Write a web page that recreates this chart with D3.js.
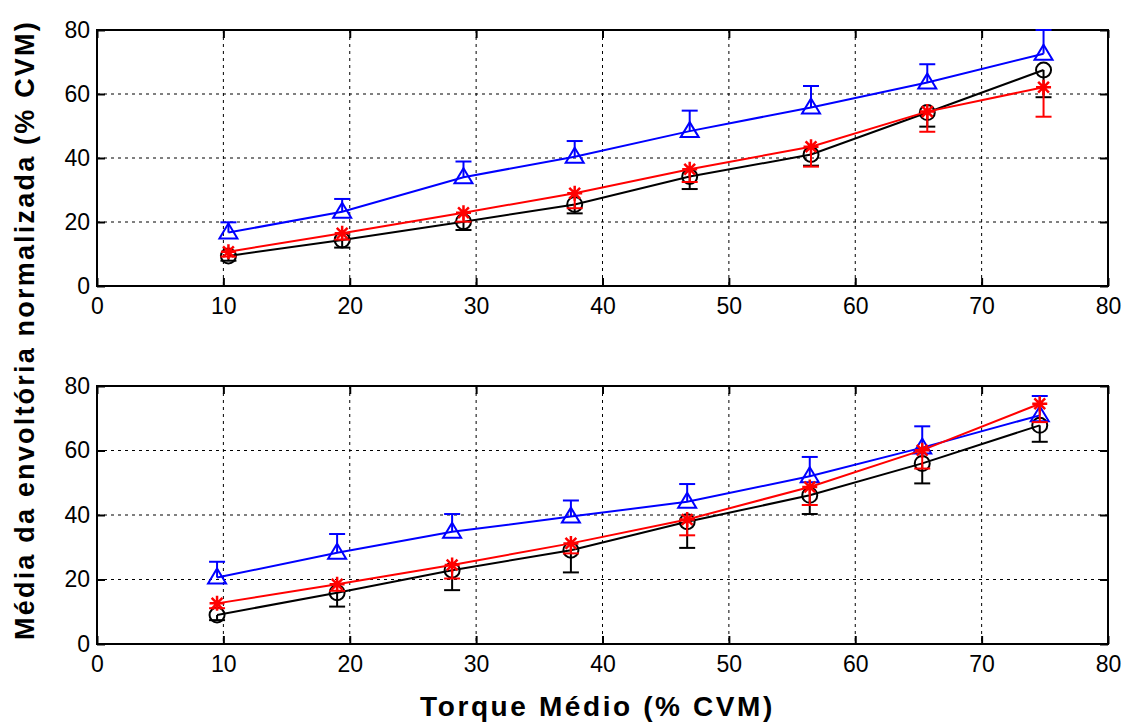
<!DOCTYPE html>
<html>
<head>
<meta charset="utf-8">
<script src="https://cdn.jsdelivr.net/npm/d3@7"></script>
<style>
  body { margin: 0; background: #fff; }
  svg { display: block; }
  text { font-family: "Liberation Sans", Arial, Helvetica, sans-serif; }
</style>
</head>
<body>
<svg id="chart" width="1132" height="724"></svg>
<script>
// ---- data ----
const xTicks = [0, 10, 20, 30, 40, 50, 60, 70, 80];
const yTicks = [0, 20, 40, 60, 80];

// top panel
const topX = [10.4, 19.4, 29.0, 37.8, 46.9, 56.5, 65.7, 74.9];
const topBlack = [9.4, 14.4, 20.1, 25.5, 34.2, 41.1, 54.2, 67.5];
const topBlackErr = [1.5, 2.4, 2.6, 2.8, 3.9, 3.5, 4.4, 8.5];
const topRed = [10.7, 16.5, 22.9, 29.0, 36.5, 43.5, 54.5, 62.1];
const topRedErr = [1.5, 2.0, 2.8, 4.7, 4.0, 6.2, 6.3, 9.2];
const topBlue = [16.7, 23.2, 34.0, 40.4, 48.4, 55.8, 63.6, 72.6];
const topBlueErr = [3.2, 4.0, 4.9, 4.9, 6.4, 6.7, 5.7, 7.4];

// bottom panel
const botX = [9.5, 19.0, 28.1, 37.5, 46.7, 56.4, 65.3, 74.6];
const botBlack = [9.0, 15.9, 22.9, 29.1, 37.9, 46.1, 56.0, 67.8];
const botBlackErr = [1.6, 4.3, 6.2, 6.9, 8.1, 5.8, 6.2, 5.1];
const botRed = [12.6, 18.5, 24.5, 31.2, 38.6, 48.7, 60.1, 74.5];
const botRedErr = [1.5, 2.0, 4.2, 3.1, 4.9, 5.6, 5.7, 5.7];
const botBlue = [20.6, 28.3, 34.8, 39.5, 44.1, 52.0, 60.9, 70.9];
const botBlueErr = [4.9, 5.8, 5.5, 5.0, 5.5, 6.0, 6.6, 6.0];

const xLabel = "Torque Médio (% CVM)";
const yLabel = "Média da envoltória normalizada (% CVM)";

// ---- layout ----
const svg = d3.select("#chart");
const left = 97, right = 1108;
const panels = [
  { top: 30, bottom: 286, x: topX,
    series: [
      { v: topBlack, e: topBlackErr, dir: -1, color: "#000000", marker: "circle" },
      { v: topBlue, e: topBlueErr, dir: 1, color: "#0000ff", marker: "triangle" },
      { v: topRed, e: topRedErr, dir: -1, color: "#ff0000", marker: "star" }
    ] },
  { top: 386, bottom: 644, x: botX,
    series: [
      { v: botBlack, e: botBlackErr, dir: -1, color: "#000000", marker: "circle" },
      { v: botBlue, e: botBlueErr, dir: 1, color: "#0000ff", marker: "triangle" },
      { v: botRed, e: botRedErr, dir: -1, color: "#ff0000", marker: "star" }
    ] }
];

const x = d3.scaleLinear().domain([0, 80]).range([left, right]);

panels.forEach(p => {
  const y = d3.scaleLinear().domain([0, 80]).range([p.bottom, p.top]);
  const g = svg.append("g");

  // grid
  g.append("g").selectAll("line").data(xTicks.slice(1, -1)).join("line")
    .attr("x1", d => x(d)).attr("x2", d => x(d))
    .attr("y1", p.top).attr("y2", p.bottom)
    .attr("stroke", "#000").attr("stroke-width", 1).attr("stroke-dasharray", "3,4");
  g.append("g").selectAll("line").data(yTicks.slice(1, -1)).join("line")
    .attr("y1", d => y(d)).attr("y2", d => y(d))
    .attr("x1", left).attr("x2", right)
    .attr("stroke", "#000").attr("stroke-width", 1).attr("stroke-dasharray", "3,4");

  // axes (ticks inward, labels)
  const ax = g.append("g").attr("transform", `translate(0,${p.bottom})`)
    .call(d3.axisBottom(x).tickValues(xTicks).tickSize(-8).tickPadding(12));
  const axTop = g.append("g").attr("transform", `translate(0,${p.top})`)
    .call(d3.axisTop(x).tickValues(xTicks).tickSize(-8).tickFormat(""));
  const ay = g.append("g").attr("transform", `translate(${left},0)`)
    .call(d3.axisLeft(y).tickValues(yTicks).tickSize(-8).tickPadding(7));
  const ayR = g.append("g").attr("transform", `translate(${right},0)`)
    .call(d3.axisRight(y).tickValues(yTicks).tickSize(-8).tickFormat(""));
  [ax, axTop, ay, ayR].forEach(a => {
    a.select(".domain").remove();
    a.selectAll(".tick line").attr("stroke", "#000").attr("stroke-width", 2);
    a.selectAll("text").attr("font-size", 23).attr("fill", "#000")
      .attr("font-family", "Liberation Sans, Arial, sans-serif");
  });

  // frame
  g.append("rect").attr("x", left).attr("y", p.top)
    .attr("width", right - left).attr("height", p.bottom - p.top)
    .attr("fill", "none").attr("stroke", "#000").attr("stroke-width", 2);

  // series
  p.series.forEach(s => {
    const pts = s.v.map((v, i) => ({ x: p.x[i], y: v, e: s.e[i] }));
    const sg = g.append("g");
    // error bars
    pts.forEach(d => {
      const y0 = y(d.y), y1 = y(d.y + s.dir * d.e), cx = x(d.x);
      sg.append("line").attr("x1", cx).attr("x2", cx).attr("y1", y0).attr("y2", y1)
        .attr("stroke", s.color).attr("stroke-width", 2);
      sg.append("line").attr("x1", cx - 8).attr("x2", cx + 8).attr("y1", y1).attr("y2", y1)
        .attr("stroke", s.color).attr("stroke-width", 2);
    });
    // line
    sg.append("path").datum(pts)
      .attr("d", d3.line().x(d => x(d.x)).y(d => y(d.y)))
      .attr("fill", "none").attr("stroke", s.color).attr("stroke-width", 2);
    // markers
    pts.forEach(d => {
      const cx = x(d.x), cy = y(d.y);
      if (s.marker === "circle") {
        sg.append("circle").attr("cx", cx).attr("cy", cy).attr("r", 7.5)
          .attr("fill", "none").attr("stroke", s.color).attr("stroke-width", 2);
      } else if (s.marker === "triangle") {
        const w = 9, h = 15;
        sg.append("path")
          .attr("d", `M${cx},${cy - h * 0.6}L${cx + w},${cy + h * 0.4}L${cx - w},${cy + h * 0.4}Z`)
          .attr("fill", "none").attr("stroke", s.color).attr("stroke-width", 2);
      } else {
        const r = 7.5, r2 = r * 0.72;
        const dd = `M${cx - r},${cy}L${cx + r},${cy}M${cx},${cy - r}L${cx},${cy + r}` +
          `M${cx - r2},${cy - r2}L${cx + r2},${cy + r2}M${cx - r2},${cy + r2}L${cx + r2},${cy - r2}`;
        sg.append("path").attr("d", dd).attr("stroke", s.color).attr("stroke-width", 2.5);
      }
    });
  });
});

// axis labels
svg.append("text").attr("x", (left + right) / 2 - 5).attr("y", 716)
  .attr("text-anchor", "middle").attr("font-size", 28).attr("font-weight", "bold")
  .attr("letter-spacing", 2.6)
  .text(xLabel);
svg.append("text").attr("transform", "translate(34,330) rotate(-90)")
  .attr("text-anchor", "middle").attr("font-size", 27).attr("font-weight", "bold")
  .attr("letter-spacing", 2.2)
  .text(yLabel);
</script>
</body>
</html>
